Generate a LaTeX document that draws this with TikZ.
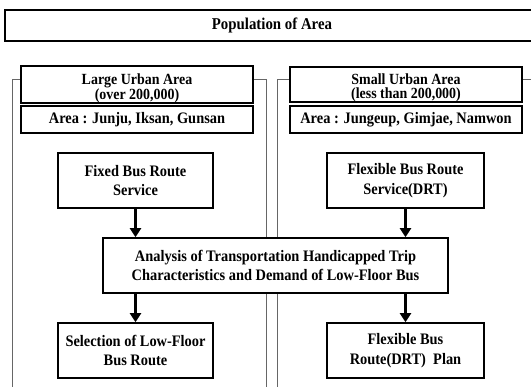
\documentclass[tikz,border=0pt]{standalone}
\usepackage{fontspec}
\setmainfont{Liberation Serif}[FakeStretch=0.9]
\usetikzlibrary{arrows.meta}
\newcommand{\hstrut}{\rule{0pt}{18pt}}
\begin{document}
\begin{tikzpicture}[x=1pt,y=-1pt,
  box/.style={draw=black, line width=1.6pt, fill=white, align=center,
    font=\fontsize{16}{19.5}\selectfont\bfseries, inner sep=0pt},
  hbox/.style={box, font=\fontsize{15.5}{14}\selectfont\bfseries},
  abox/.style={box, font=\fontsize{16}{16}\selectfont\bfseries},
  panel/.style={draw=black!60, line width=0.8pt},
  arr/.style={line width=2.6pt, -{Triangle[length=9pt,width=11pt]}}]
\useasboundingbox (0,0) rectangle (531,387);
\clip (0,0) rectangle (531,387);
% panels
\draw[panel] (12.5,400) -- (12.5,79) -- (266,79) -- (266,400);
\draw[panel] (277,400) -- (277,79) -- (545,79);
% top
\node[box, line width=1.4pt, font=\fontsize{16.5}{16.5}\selectfont\bfseries,
  minimum width=534pt, minimum height=31pt] (pop) at (272,25.5) {Population of Area};
% headers
\node[hbox, minimum width=232pt, minimum height=33pt] (large) at (137,84.5)
  {\hstrut Large Urban Area\\(over 200,000)};
\node[abox, minimum width=232pt, minimum height=27pt] (larea) at (137,119.5)
  {Area : Junju, Iksan, Gunsan};
\node[hbox, minimum width=232pt, minimum height=33pt] (small) at (406,84.5)
  {\hstrut Small Urban Area\\(less than 200,000)};
\node[abox, minimum width=232pt, minimum height=27pt] (sarea) at (406,119.5)
  {Area : Jungeup, Gimjae, Namwon};
% process boxes
\node[box, minimum width=155pt, minimum height=55pt] (fixed) at (135.5,180.5)
  {Fixed Bus Route\\Service};
\node[box, minimum width=157pt, minimum height=55pt] (flex) at (405.5,180.5)
  {Flexible Bus Route\\Service(DRT)};
\node[box, minimum width=345pt, minimum height=55pt] (ana) at (275.5,265.5)
  {Analysis of Transportation Handicapped Trip\\Characteristics and Demand of Low-Floor Bus};
\node[box, minimum width=155pt, minimum height=55pt] (sel) at (135.5,350.5)
  {Selection of Low-Floor\\Bus Route};
\node[box, minimum width=157pt, minimum height=55pt] (plan) at (405.5,350.5)
  {Flexible Bus\\Route(DRT)~ Plan};
% arrows
\draw[arr] (fixed.south) -- (fixed.south |- ana.north);
\draw[arr] (flex.south) -- (flex.south |- ana.north);
\draw[arr] (ana.south -| sel.north) -- (sel.north);
\draw[arr] (ana.south -| plan.north) -- (plan.north);
\end{tikzpicture}
\end{document}
